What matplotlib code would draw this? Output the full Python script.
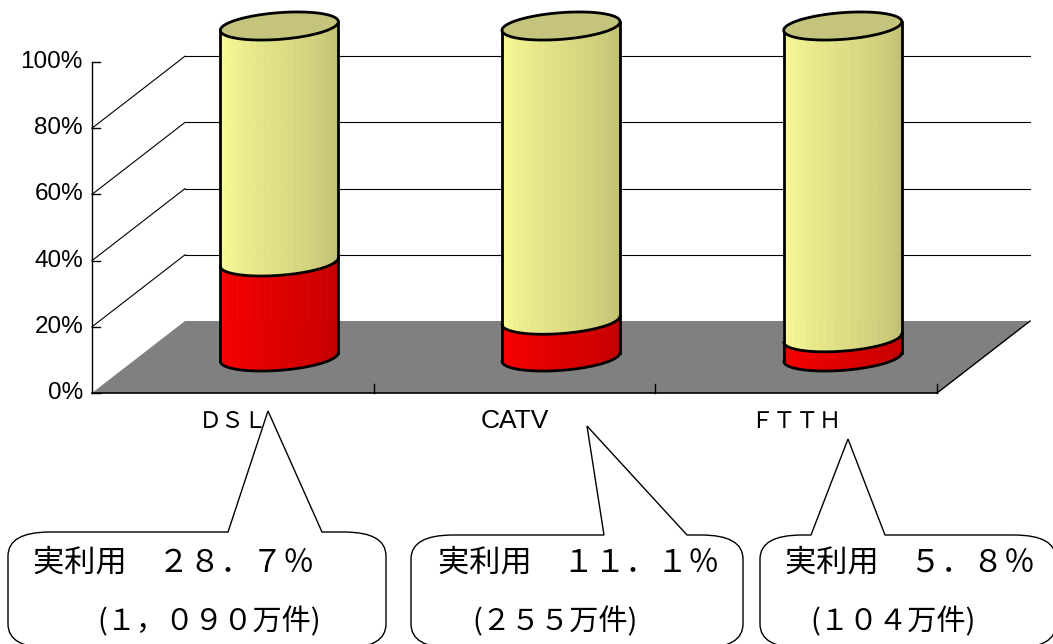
import numpy as np
import matplotlib
matplotlib.use('Agg')
import matplotlib.pyplot as plt
from matplotlib.patches import Polygon, PathPatch
from matplotlib.path import Path
from matplotlib.transforms import Affine2D

# data
categories = ['ＤＳＬ', 'CATV', 'ＦＴＴＨ']
actual_use = [28.7, 11.1, 5.8]          # 実利用 share (%)
total_share = [100, 100, 100]
use_labels = ['２８．７％', '１１．１％', '５．８％']
subscribers = ['１，０９０', '２５５', '１０４']   # 万件
y_ticks = [0, 20, 40, 60, 80, 100]

W, H = 1053, 644
X0_PX, CAT_PX = 92, 281.7       # front-left corner, width of a category
Y0_PX, PCT_PX = 393, 3.31       # 0% line, pixels per percent
DX = 93 / CAT_PX                # depth offset in data units
DY = 72 / PCT_PX

fig = plt.figure(figsize=(W / 100, H / 100), dpi=100)
ax = fig.add_axes([0, 0, 1, 1])
ax.set_xlim(-X0_PX / CAT_PX, (W - X0_PX) / CAT_PX)
ax.set_ylim(-(H - Y0_PX) / PCT_PX, Y0_PX / PCT_PX)
ax.axis('off')

n = len(categories)

# floor
floor = Polygon([(0, 0), (n, 0), (n + DX, DY), (DX, DY)], closed=True,
                facecolor='#808080', edgecolor='none', zorder=1)
ax.add_patch(floor)
ax.plot([n, n + DX], [0, DY], color='black', lw=1, zorder=1.2)
ax.plot([0, n], [0, 0], color='black', lw=1.2, zorder=1.2)
for k in range(1, n + 1):
    ax.plot([k, k], [0, 9 / PCT_PX], color='black', lw=1, zorder=1.2)

# walls / gridlines
for p in y_ticks[1:-1]:
    ax.plot([0, DX], [p, p + DY], color='black', lw=0.8, zorder=1.1)
    ax.plot([DX, n + DX], [p + DY, p + DY], color='black', lw=0.8, zorder=1.1)

# value axis
ax.plot([0, 0], [0, 100], color='black', lw=1, zorder=1.2)
for p in y_ticks:
    ax.text(-9 / CAT_PX, p, f'{p}%', ha='right', va='center', fontsize=17.5,
            family=['Liberation Sans', 'DejaVu Sans'])
    ax.plot([0, 8 / CAT_PX], [p, p], color='black', lw=1, zorder=1.2)

# category labels
for i, c in enumerate(categories):
    size = 19 if c.isascii() else 16.5
    ax.text(i + 0.5, -28 / PCT_PX, c, ha='center', va='center', fontsize=size,
            family=['Liberation Sans', 'Noto Sans CJK JP'])


def blend(c1, c2, f):
    c1 = np.array(matplotlib.colors.to_rgb(c1))
    c2 = np.array(matplotlib.colors.to_rgb(c2))
    return tuple(c1 + (c2 - c1) * f)


R = 0.1995      # cylinder radius (category units)
FD = 0.195      # cylinder depth as fraction of depth vector
T0 = np.arctan(FD * DX / R)


def ring(cx, y, t):
    return cx + R * np.cos(t) + FD * DX * np.sin(t), y + FD * DY * np.sin(t)


def cylinder(cx, y0, y1, light, dark, top=None, z=3):
    ts = np.linspace(T0 + np.pi, T0 + 2 * np.pi, 25)
    xb, yb = ring(cx, y0, ts)
    xt, yt = ring(cx, y1, ts)
    for k in range(len(ts) - 1):
        f = k / (len(ts) - 2)
        col = blend(light, dark, f)
        ax.add_patch(Polygon([(xb[k], yb[k]), (xb[k + 1], yb[k + 1]),
                              (xt[k + 1], yt[k + 1]), (xt[k], yt[k])],
                             closed=True, facecolor=col, edgecolor=col,
                             lw=0.5, zorder=z))
    ax.plot(xb, yb, color='black', lw=2, zorder=z + 0.5,
            solid_capstyle='round')
    ax.plot([xb[0], xt[0]], [yb[0], yt[0]], color='black', lw=2, zorder=z + 0.5)
    ax.plot([xb[-1], xt[-1]], [yb[-1], yt[-1]], color='black', lw=2, zorder=z + 0.5)
    if top is not None:
        tt = np.linspace(0, 2 * np.pi, 80)
        xe, ye = ring(cx, y1, tt)
        ax.add_patch(Polygon(np.column_stack([xe, ye]), closed=True,
                             facecolor=top, edgecolor='black', lw=2,
                             zorder=z + 0.6))


for i in range(n):
    cx = i + 0.5 + 0.5 * DX
    base = 0.5 * DY
    cylinder(cx, base, base + actual_use[i], '#FF0000', '#BE0000', z=3)
    cylinder(cx, base + actual_use[i], base + total_share[i],
             '#FFFF99', '#BDBD72', top='#C4C47C', z=4)

# callouts (layout in canvas pixels)
px = Affine2D().scale(1 / W, -1 / H).translate(0, 1) + ax.transAxes
callouts = [
    # left, right, top, base-left, base-right, tip, text1 x, text2 x
    (8, 386, 532, 228, 322, (268, 411), 33, 97),
    (411, 743, 535, 604, 687, (587, 426), 438, 472),
    (760, 1056, 535, 811, 885, (848, 439), 785, 810),
]
RX, RY, BOT = 42, 24, 648
for i, (l, r, t, bl, br, tip, x1, x2) in enumerate(callouts):
    verts = [(l, t + RY), (l, t), (l + RX, t), (bl, t), tip, (br, t),
             (r - RX, t), (r, t), (r, t + RY), (r, BOT - RY), (r, BOT),
             (r - RX, BOT), (l + RX, BOT), (l, BOT), (l, BOT - RY), (l, t + RY)]
    codes = [Path.MOVETO, Path.CURVE3, Path.CURVE3, Path.LINETO, Path.LINETO,
             Path.LINETO, Path.LINETO, Path.CURVE3, Path.CURVE3, Path.LINETO,
             Path.CURVE3, Path.CURVE3, Path.LINETO, Path.CURVE3, Path.CURVE3,
             Path.CLOSEPOLY]
    ax.add_patch(PathPatch(Path(verts, codes), facecolor='white',
                           edgecolor='black', lw=1, transform=px, zorder=5))
    ax.text(x1, 563, '実利用　' + use_labels[i], transform=px, ha='left',
            va='center', fontsize=22.5, zorder=6,
            family=['Noto Sans CJK JP', 'DejaVu Sans'])
    ax.text(x2, 622, '(' + subscribers[i] + '万件)', transform=px, ha='left',
            va='center', fontsize=21, zorder=6,
            family=['Noto Sans CJK JP', 'DejaVu Sans'])

fig.savefig('out.png', dpi=100)
